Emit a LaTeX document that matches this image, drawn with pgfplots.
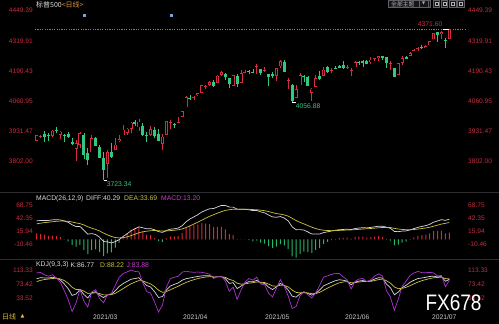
\documentclass[border=0pt]{standalone}
\usepackage{fontspec}
\setmainfont{Liberation Sans}
\newfontfamily\cjk{Noto Sans CJK SC}
\newfontfamily\dejavu{DejaVu Sans}
\usepackage{graphicx}
\usepackage{pgfplots}
\usepackage{pgfplotstable}
\pgfplotsset{compat=1.18}

\definecolor{upred}{RGB}{215,45,65}
\definecolor{dngreen}{RGB}{50,200,130}
\definecolor{tickred}{RGB}{200,45,65}
\definecolor{difcol}{RGB}{215,215,225}
\definecolor{deacol}{RGB}{205,195,60}
\definecolor{jcol}{RGB}{175,50,210}
\definecolor{macdtxt}{RGB}{200,60,210}
\definecolor{datecol}{RGB}{200,200,200}
\definecolor{sepcol}{RGB}{45,45,50}
\definecolor{dashcol}{RGB}{190,115,55}
\definecolor{gold}{RGB}{225,190,60}
\definecolor{orng}{RGB}{230,150,50}
\definecolor{barred}{RGB}{215,40,55}
\definecolor{bargreen}{RGB}{35,185,105}
\definecolor{titlegray}{RGB}{220,220,220}
\definecolor{dotblue}{RGB}{120,160,220}
\definecolor{btnfill}{RGB}{22,22,26}
\definecolor{btnedge}{RGB}{95,95,100}
\definecolor{btntext}{RGB}{180,180,180}

\pgfplotsset{panel/.style={scale only axis, width=430pt, xmin=0.567, xmax=109.98,
  axis line style={draw=none}, tick style={draw=none}, major tick length=0pt,
  xtick=\empty,
  yticklabel style={font=\fontsize{6.6}{7}\selectfont, text=tickred, inner sep=0pt}}}

% up candles: index, low, high, body bottom, body top
\pgfplotstableread{
i l h bb bt
1 3892.59 3915.77 3892.59 3915.59
2 3902.64 3918.35 3908.70 3913.00
5 3905.78 3937.23 3911.65 3934.83
7 3900.43 3933.61 3918.50 3931.33
11 3805.59 3895.98 3857.07 3881.37
12 3859.60 3928.65 3873.71 3925.43
15 3842.51 3914.50 3842.51 3901.82
19 3730.19 3851.69 3793.58 3841.94
21 3851.93 3903.76 3851.93 3875.44
22 3885.73 3917.35 3891.99 3898.81
23 3915.54 3960.27 3915.54 3939.34
24 3915.21 3944.99 3924.52 3943.34
25 3923.54 3970.08 3942.96 3968.94
27 3935.74 3983.87 3949.57 3974.12
30 3914.16 3955.31 3916.48 3940.59
33 3853.50 3919.54 3879.34 3909.52
34 3917.12 3978.19 3917.12 3974.54
35 3943.25 3981.83 3968.00 3972.30
37 3966.98 3994.41 3967.25 3972.89
38 3992.78 4020.63 3992.78 4019.87
39 4034.44 4083.42 4034.44 4077.91
41 4068.31 4083.13 4074.29 4079.95
42 4082.54 4098.19 4089.95 4097.17
43 4095.51 4129.48 4096.11 4128.80
44 4114.82 4131.76 4124.20 4128.50
45 4124.43 4148.00 4130.10 4141.59
47 4139.76 4173.49 4139.76 4170.42
48 4170.75 4191.31 4174.14 4185.47
51 4126.35 4175.02 4128.42 4173.42
53 4138.78 4194.17 4138.78 4180.17
54 4182.36 4194.19 4184.20 4188.50
57 4176.81 4218.78 4206.14 4211.47
59 4188.03 4209.39 4190.20 4194.50
62 4147.33 4202.70 4169.14 4201.62
63 4201.64 4238.04 4210.34 4232.60
65 4111.53 4162.04 4149.10 4153.40
67 4074.99 4131.58 4074.99 4112.50
68 4129.58 4183.13 4129.58 4173.85
71 4061.41 4116.93 4098.45 4115.68
72 4121.97 4172.80 4121.97 4159.12
74 4170.16 4209.52 4170.16 4197.05
76 4184.11 4202.61 4191.59 4195.99
80 4198.27 4217.37 4205.30 4209.60
81 4167.93 4204.39 4190.00 4194.30
82 4206.05 4233.45 4206.05 4229.89
86 4220.34 4249.74 4228.56 4239.18
87 4232.25 4248.38 4242.90 4247.44
88 4234.07 4255.59 4248.31 4255.15
91 4196.05 4232.29 4219.00 4223.30
93 4173.40 4226.24 4173.40 4224.79
94 4217.27 4255.84 4224.61 4246.44
96 4256.97 4271.28 4256.97 4266.49
97 4271.16 4286.12 4274.45 4280.70
98 4274.67 4292.14 4284.90 4290.61
100 4287.96 4302.43 4290.65 4297.50
101 4300.73 4320.66 4300.73 4319.94
102 4326.60 4355.43 4326.60 4352.34
104 4329.79 4361.88 4351.01 4358.13
106 4329.38 4371.60 4329.38 4369.55
}\uptab

% down candles
\pgfplotstableread{
i l h bb bt
3 3884.94 3931.50 3909.88 3920.78
4 3890.39 3925.99 3914.20 3918.50
6 3923.85 3950.43 3932.59 3939.61
8 3885.60 3921.09 3912.80 3917.10
9 3903.07 3930.41 3906.71 3921.16
10 3874.71 3902.92 3876.50 3885.55
13 3814.04 3925.02 3829.34 3915.80
14 3789.54 3861.08 3811.15 3839.66
16 3868.57 3906.41 3870.29 3903.64
17 3818.86 3874.47 3819.72 3863.99
18 3723.34 3843.67 3768.47 3818.53
20 3819.25 3881.06 3821.35 3844.39
26 3953.44 3981.04 3962.71 3973.59
28 3910.86 3969.62 3915.46 3953.50
29 3886.75 3930.12 3911.00 3915.30
31 3901.57 3949.13 3910.52 3937.60
32 3889.07 3942.08 3889.14 3919.93
36 3944.35 3968.01 3958.55 3963.34
40 4068.14 4086.23 4072.60 4076.90
46 4120.87 4151.69 4124.66 4141.58
49 4150.47 4180.81 4163.26 4179.80
50 4118.38 4159.18 4134.94 4159.18
52 4123.69 4179.57 4134.98 4170.46
55 4176.22 4193.35 4185.30 4189.60
56 4181.78 4201.53 4182.00 4186.30
58 4174.85 4198.10 4181.17 4198.10
60 4128.59 4179.04 4164.66 4179.04
61 4160.94 4187.72 4167.59 4177.06
64 4188.13 4236.39 4188.43 4228.29
66 4056.88 4134.73 4063.04 4130.55
69 4142.69 4171.92 4163.29 4169.92
70 4125.99 4169.15 4127.83 4165.94
73 4151.72 4188.72 4155.86 4168.61
75 4182.52 4213.42 4188.13 4205.94
77 4197.78 4213.38 4199.30 4203.60
78 4203.57 4218.36 4204.11 4210.77
79 4197.59 4234.12 4202.04 4216.52
83 4215.66 4232.34 4225.80 4230.10
84 4208.41 4236.74 4227.26 4233.81
85 4218.74 4237.09 4219.55 4232.99
89 4238.35 4257.16 4246.59 4255.28
90 4202.45 4251.89 4223.70 4248.87
92 4164.40 4204.78 4166.45 4204.78
95 4241.43 4256.60 4241.84 4249.27
99 4286.96 4300.52 4290.40 4294.70
103 4314.37 4356.46 4343.54 4356.46
105 4289.37 4330.88 4318.80 4323.10
}\dntab

\pgfplotstableread{
i dif dea h
1 37.00 31.00 12.00
2 37.71 32.34 10.74
3 37.73 33.42 8.62
4 37.83 34.30 7.06
5 38.94 35.23 7.42
6 39.20 36.02 6.36
7 38.85 36.59 4.52
8 36.75 36.62 0.26
9 34.10 36.12 -4.04
10 29.23 34.74 -11.02
11 25.47 32.89 -14.84
12 25.75 31.46 -11.42
13 18.02 28.77 -21.50
14 10.31 25.08 -29.54
15 11.38 22.34 -21.92
16 9.57 19.79 -20.44
17 4.01 16.63 -25.24
18 -4.48 12.41 -33.78
19 -5.22 8.88 -28.20
20 -7.38 5.63 -26.02
21 -4.68 3.57 -16.50
22 -0.65 2.73 -6.76
23 5.75 3.33 4.84
24 11.01 4.87 12.28
25 17.05 7.31 19.48
26 21.09 10.07 22.04
27 24.93 13.04 23.78
28 22.97 15.03 15.88
29 20.99 16.22 9.54
30 21.39 17.25 8.28
31 19.06 17.61 2.90
32 15.32 17.15 -3.66
33 13.84 16.49 -5.30
34 17.70 16.73 1.94
35 20.25 17.43 5.64
36 21.02 18.15 5.74
37 22.53 19.03 7.00
38 27.19 20.66 13.06
39 35.16 23.56 23.20
40 40.69 26.99 27.40
41 45.04 30.60 28.88
42 49.31 34.34 29.94
43 54.61 38.39 32.44
44 58.08 42.33 31.50
45 61.22 46.11 30.22
46 61.64 49.22 24.84
47 64.90 52.36 25.08
48 67.91 55.47 24.88
49 67.74 57.92 19.64
50 64.57 59.25 10.64
51 64.42 60.28 8.28
52 60.50 60.32 0.36
53 60.35 60.33 0.04
54 60.13 60.29 -0.32
55 59.20 60.07 -1.74
56 57.52 59.56 -4.08
57 57.81 59.21 -2.80
58 54.96 58.36 -6.80
59 53.01 57.29 -8.56
60 48.65 55.56 -13.82
61 44.91 53.43 -17.04
62 44.19 51.58 -14.78
63 45.59 50.38 -9.58
64 42.64 48.83 -12.38
65 36.94 46.45 -19.02
66 24.96 42.15 -34.38
67 19.24 37.57 -36.66
68 19.42 33.94 -29.04
69 18.50 30.85 -24.70
70 14.75 27.63 -25.76
71 10.67 24.24 -27.14
72 10.81 21.55 -21.48
73 10.54 19.35 -17.62
74 13.49 18.18 -9.38
75 14.93 17.53 -5.20
76 16.53 17.33 -1.60
77 17.98 17.46 1.04
78 19.17 17.80 2.74
79 19.71 18.18 3.06
80 20.40 18.62 3.56
81 19.49 18.79 1.40
82 21.51 19.33 4.36
83 22.57 19.98 5.18
84 23.21 20.63 5.16
85 22.83 21.07 3.52
86 23.84 21.62 4.44
87 25.02 22.30 5.44
88 26.27 23.09 6.36
89 26.27 23.73 5.08
90 24.14 23.81 0.66
91 22.05 23.46 -2.82
92 15.75 21.92 -12.34
93 15.28 20.59 -10.62
94 16.46 19.76 -6.60
95 16.84 19.18 -4.68
96 18.90 19.12 -0.44
97 21.44 19.58 3.72
98 23.97 20.46 7.02
99 25.77 21.52 8.50
100 27.35 22.69 9.32
101 30.06 24.16 11.80
102 34.42 26.21 16.42
103 36.75 28.32 16.86
104 39.32 30.52 17.60
105 37.91 32.00 11.82
106 40.29 33.69 13.20
}\macdtab

\pgfplotstableread{
i k d j
1 88.6 80.2 105.4
2 91.3 83.9 106.1
3 90.7 86.2 99.7
4 90.2 87.5 95.6
5 92.8 89.3 99.8
6 90.0 89.5 91.0
7 84.9 88.0 78.7
8 73.8 83.3 54.8
9 60.3 75.6 29.7
10 41.0 64.1 -5.2
11 44.8 57.7 19.0
12 57.4 57.6 57.0
13 43.7 53.0 25.1
14 33.6 46.5 7.8
15 48.4 47.1 51.0
16 51.4 48.5 57.2
17 41.4 46.1 32.0
18 34.9 42.4 19.9
19 42.5 42.4 42.7
20 44.2 43.0 46.6
21 54.6 46.9 70.0
22 66.5 53.4 92.7
23 74.7 60.5 103.1
24 80.8 67.3 107.8
25 87.0 73.9 113.2
26 89.0 78.9 109.2
27 91.4 83.1 108.0
28 80.4 82.2 76.8
29 69.1 77.8 51.7
30 64.7 73.4 47.3
31 51.3 66.0 21.9
32 35.0 55.7 -6.4
33 37.7 49.7 13.7
34 56.1 51.8 64.7
35 67.5 57.0 88.5
36 72.3 62.1 92.7
37 76.4 66.9 95.4
38 84.1 72.6 107.1
39 88.6 77.9 110.0
40 90.6 82.1 107.6
41 92.8 85.7 107.0
42 95.0 88.8 107.4
43 96.5 91.4 106.7
44 97.0 93.3 104.4
45 96.8 94.5 101.4
46 92.2 93.7 89.2
47 94.1 93.8 94.7
48 94.5 94.0 95.5
49 88.7 92.2 81.7
50 75.2 86.5 52.6
51 77.2 83.4 64.8
52 60.3 75.7 29.5
53 67.4 72.9 56.4
54 75.4 73.7 78.8
55 80.3 75.9 89.1
56 79.5 77.1 84.3
57 83.9 79.4 92.9
58 76.8 78.5 73.4
59 75.4 77.5 71.2
60 64.6 73.2 47.4
61 57.5 68.0 36.5
62 65.3 67.1 61.7
63 75.2 69.8 86.0
64 68.4 69.3 66.6
65 56.3 65.0 38.9
66 38.7 56.2 3.7
67 36.0 49.5 9.0
68 45.5 48.2 40.1
69 49.9 48.8 52.1
70 46.3 48.0 42.9
71 41.7 45.9 33.3
72 46.8 46.2 48.0
73 56.2 49.5 69.6
74 68.1 55.7 92.9
75 73.2 61.5 96.6
76 78.3 67.1 100.7
77 82.8 72.3 103.8
78 85.5 76.7 103.1
79 84.1 79.2 93.9
80 81.7 80.0 85.1
81 71.1 77.0 59.3
82 78.6 77.5 80.8
83 81.9 79.0 87.7
84 83.3 80.4 89.1
85 80.4 80.4 80.4
86 82.6 81.1 85.6
87 87.5 83.2 96.1
88 91.5 86.0 102.5
89 90.4 87.5 96.2
90 73.2 82.7 54.2
91 62.9 76.1 36.5
92 42.7 65.0 -1.9
93 50.2 60.1 30.4
94 62.9 61.0 66.7
95 69.8 63.9 81.6
96 78.4 68.7 97.8
97 84.1 73.8 104.7
98 89.0 78.9 109.2
99 90.5 82.8 105.9
100 92.5 86.0 105.5
101 94.8 88.9 106.6
102 95.8 91.2 105.0
103 93.5 92.0 96.5
104 94.5 92.8 97.9
105 81.2 88.9 65.8
106 86.77 88.22 83.88
}\kdjtab

\begin{document}
\begin{tikzpicture}
\fill[black] (0pt,0pt) rectangle (499pt,324pt);
\draw[sepcol, line width=0.6pt] (0pt,131.5pt) -- (499pt,131.5pt);
\draw[sepcol, line width=0.6pt] (0pt,65pt) -- (499pt,65pt);

% ---------------- main price panel ----------------
\begin{axis}[panel, at={(35pt,132pt)}, anchor=south west, height=192pt,
  ymin=3672.09, ymax=4495.26, clip=false,
  ytick={3802,3931.47,4060.95,4190.43,4319.91,4449.39},
  yticklabels={3802.00,3931.47,4060.95,4190.43,4319.91,4449.39},
  yticklabel style={xshift=-2pt}]
\addplot[dashcol, line width=0.6pt, dash pattern=on 1.2pt off 1.2pt] coordinates {(0.567,4369.55) (109.98,4369.55)};
\addplot[only marks, mark=square*, mark size=0.7pt, color=dotblue] coordinates {(13.1,4429.7) (35.2,4429.7)};
\addplot[draw=dngreen, line width=0.7pt, quiver={u=0,v=\thisrow{h}-\thisrow{l}}] table[x=i,y=l]{\dntab};
\addplot[draw=dngreen, line width=3pt, quiver={u=0,v=\thisrow{bt}-\thisrow{bb}}] table[x=i,y=bb]{\dntab};
\addplot[draw=upred, line width=0.7pt, quiver={u=0,v=\thisrow{h}-\thisrow{l}}] table[x=i,y=l]{\uptab};
\addplot[draw=upred, line width=3pt, quiver={u=0,v=\thisrow{bt}-\thisrow{bb}}] table[x=i,y=bb]{\uptab};
\addplot[draw=black, line width=1.6pt, quiver={u=0,v={max(0,\thisrow{bt}-\thisrow{bb}-6)}}] table[x=i,y expr=\thisrow{bb}+3]{\uptab};
\addplot[white, line width=0.6pt] coordinates {(104.3,4371.6) (106,4371.6)};
\addplot[white, line width=0.6pt] coordinates {(66,4056.88) (66.9,4056.88)};
\addplot[white, line width=0.6pt] coordinates {(18,3723.34) (18.8,3723.34)};
\node[anchor=base east, inner sep=0pt, text=upred, font=\fontsize{6.8}{8}\selectfont, yshift=2pt] at (axis cs:104.3,4371.6) {4371.60};
\node[anchor=north west, inner sep=0pt, text=dngreen, font=\fontsize{6.8}{8}\selectfont, yshift=-1.5pt] at (axis cs:66.9,4056.88) {4056.88};
\node[anchor=north west, inner sep=0pt, text=dngreen, font=\fontsize{6.8}{8}\selectfont, yshift=-1.5pt] at (axis cs:18.8,3723.34) {3723.34};
\end{axis}
\begin{axis}[panel, at={(35pt,132pt)}, anchor=south west, height=192pt,
  ymin=3672.09, ymax=4495.26, yticklabel pos=right,
  ytick={3802,3931.47,4060.95,4190.43,4319.91,4449.39},
  yticklabels={3802.00,3931.47,4060.95,4190.43,4319.91,4449.39},
  yticklabel style={xshift=3pt}]
\end{axis}

% ---------------- MACD panel ----------------
\begin{axis}[panel, at={(35pt,65pt)}, anchor=south west, height=66pt,
  ymin=-39.52, ymax=92.81,
  ytick={-10.46,15.94,42.35,68.75}, yticklabels={-10.46,15.94,42.35,68.75},
  yticklabel style={xshift=-2pt}]
\addplot[ybar, bar width=1pt, bar shift=0pt, fill=barred, draw=none] table[x=i, y expr={max(0,\thisrow{h})}]{\macdtab};
\addplot[ybar, bar width=1pt, bar shift=0pt, fill=bargreen, draw=none] table[x=i, y expr={min(0,\thisrow{h})}]{\macdtab};
\addplot[difcol, line width=0.7pt] table[x=i,y=dif]{\macdtab};
\addplot[deacol, line width=0.7pt] table[x=i,y=dea]{\macdtab};
\end{axis}
\begin{axis}[panel, at={(35pt,65pt)}, anchor=south west, height=66pt,
  ymin=-39.52, ymax=92.81, yticklabel pos=right,
  ytick={-10.46,15.94,42.35,68.75}, yticklabels={-10.46,15.94,42.35,68.75},
  yticklabel style={xshift=3pt}]
\end{axis}

% ---------------- KDJ panel ----------------
\begin{axis}[panel, at={(35pt,11pt)}, anchor=south west, height=54pt,
  ymin=-9.24, ymax=144.68,
  ytick={33.52,73.42,113.33}, yticklabels={33.52,73.42,113.33},
  yticklabel style={xshift=-2pt}]
\addplot[difcol, line width=0.7pt] table[x=i,y=k]{\kdjtab};
\addplot[deacol, line width=0.7pt] table[x=i,y=d]{\kdjtab};
\addplot[jcol, line width=0.7pt] table[x=i,y=j]{\kdjtab};
\end{axis}
\begin{axis}[panel, at={(35pt,11pt)}, anchor=south west, height=54pt,
  ymin=-9.24, ymax=144.68, yticklabel pos=right,
  ytick={33.52,73.42,113.33}, yticklabels={33.52,73.42,113.33},
  yticklabel style={xshift=3pt}]
\end{axis}

% ---------------- texts ----------------
\node[anchor=west, inner sep=0pt] at (36pt,319.5pt) {\cjk\fontsize{7}{8}\selectfont\color{titlegray}标普500\color{orng}<日线>};

\begin{scope}[every node/.style={anchor=west, inner sep=0pt, font=\fontsize{6.8}{8}\selectfont}]
\node[text=titlegray] at (36pt,125.7pt) {MACD(26,12,9)};
\node[text=titlegray] at (86pt,125.7pt) {DIFF:40.29};
\node[text=deacol] at (124pt,125.7pt) {DEA:33.69};
\node[text=macdtxt] at (161pt,125.7pt) {MACD:13.20};
\node[text=titlegray] at (36pt,59pt) {KDJ(9,3,3)};
\node[text=titlegray] at (70.5pt,59pt) {K:86.77};
\node[text=deacol] at (100pt,59pt) {D:88.22};
\node[text=macdtxt] at (126.5pt,59pt) {J:83.88};
\end{scope}

\begin{scope}[every node/.style={anchor=west, inner sep=0pt, text=datecol, font=\fontsize{6.7}{8}\selectfont}]
\node at (93pt,6.5pt) {2021/03};
\node at (183pt,6.5pt) {2021/04};
\node at (265pt,6.5pt) {2021/05};
\node at (345pt,6.5pt) {2021/06};
\node at (432pt,6.5pt) {2021/07};
\end{scope}

\node[anchor=west, inner sep=0pt, text=gold] at (2pt,7pt) {\cjk\fontsize{7}{8}\selectfont 日线};
\node[anchor=west, inner sep=0pt, text=gold] at (20.5pt,7.3pt) {\dejavu\fontsize{5}{6}\selectfont ▲};

% top-right controls
\draw[fill=btnfill, draw=btnedge, line width=0.5pt] (388pt,316.5pt) rectangle (430pt,323.7pt);
\node[anchor=west, inner sep=0pt, text=btntext] at (391pt,320.1pt) {\cjk\fontsize{5.8}{6}\selectfont 全部主题};
\draw[draw=btnedge, line width=0.4pt] (419.5pt,317pt) rectangle (428pt,323.3pt);
\node[inner sep=0pt, text=btntext] at (423.7pt,320.1pt) {\dejavu\fontsize{4}{5}\selectfont ▼};
\foreach \xx in {433,441,449.5,457.5}{
  \draw[fill=btnfill, draw=btnedge, line width=0.4pt] (\xx pt,317pt) rectangle (\xx pt+6.5pt,323.5pt);
  \draw[draw=btntext, line width=0.4pt] (\xx pt+1.8pt,318.5pt) rectangle (\xx pt+4.7pt,322pt);
}

% watermark
\node[inner sep=0pt, text=white] at (453.5pt,21.5pt) {\fontsize{20}{22}\selectfont\scalebox{0.95}[1.12]{FX678}};

\pgfresetboundingbox
\path[use as bounding box] (0pt,0pt) rectangle (499pt,324pt);
\end{tikzpicture}
\end{document}
